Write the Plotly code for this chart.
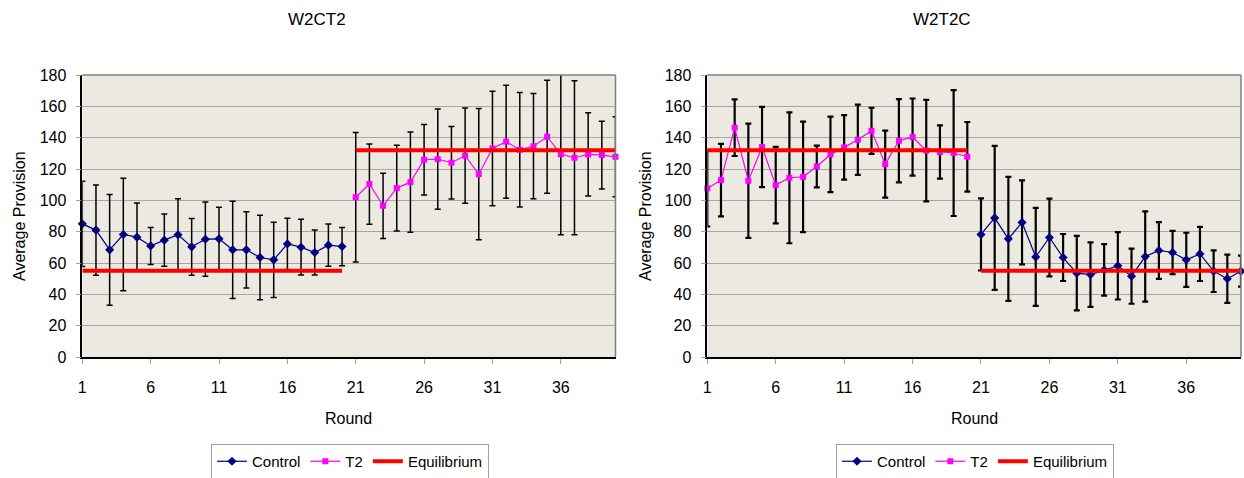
import plotly.graph_objects as go

rounds = list(range(1, 41))
rounds_a = rounds[:20]
rounds_b = rounds[20:]

# W2CT2 panel
left_control = [85.0, 81.0, 68.4, 78.2, 76.5, 70.9, 74.6, 78.0, 70.3, 75.2,
                75.4, 68.4, 68.4, 63.5, 62.0, 72.2, 70.1, 66.7, 71.4, 70.5]
left_control_err = [27.2, 28.8, 35.4, 35.9, 21.8, 11.8, 16.7, 23.0, 18.1, 23.7,
                    20.2, 31.0, 24.3, 26.9, 24.0, 16.3, 17.8, 14.3, 13.5, 12.2]
left_t2 = [102.0, 110.4, 96.5, 107.8, 111.6, 125.9, 126.3, 124.0, 128.5, 116.7,
           133.1, 137.4, 132.3, 134.6, 140.6, 129.5, 127.2, 129.3, 128.9, 127.8]
left_t2_err = [41.3, 25.6, 20.8, 27.4, 32.0, 22.5, 32.0, 23.1, 30.4, 41.9,
               36.5, 36.0, 36.6, 33.6, 36.0, 51.5, 49.2, 26.6, 21.6, 25.5]
left_eq = [55, 132]

# W2T2C panel
right_t2 = [107.6, 112.9, 146.4, 112.5, 134.0, 109.7, 114.4, 115.0, 121.6, 129.3,
            133.8, 138.7, 144.4, 123.1, 138.0, 140.4, 131.7, 130.8, 130.2, 127.8]
right_t2_err = [24.3, 23.1, 18.1, 36.5, 25.6, 24.4, 41.8, 35.3, 13.3, 24.1,
                20.6, 22.4, 14.7, 21.4, 26.6, 24.6, 32.4, 17.0, 40.2, 22.2]
right_control = [78.2, 88.8, 75.4, 85.9, 63.9, 76.3, 63.5, 53.5, 52.6, 55.6,
                 58.2, 51.6, 64.1, 68.0, 66.7, 62.0, 65.8, 54.8, 49.9, 54.8]
right_control_err = [23.0, 46.0, 39.6, 26.8, 31.3, 24.8, 15.0, 23.8, 20.6, 16.4,
                     21.5, 17.6, 28.8, 18.1, 13.8, 17.3, 17.3, 13.3, 15.4, 9.9]
right_eq = [132, 55]

titles = ["W2CT2", "W2T2C"]
y_ticks = list(range(0, 181, 20))
x_ticks = [1, 6, 11, 16, 21, 26, 31, 36]

FONT = "Liberation Sans, Arial, sans-serif"
NAVY = "#000080"
MAGENTA = "#FF00FF"
RED = "#FF0000"
BG = "#ECEAE0"
GRID = "#A6A6A6"

W, H = 1244, 478
fig = go.Figure()


def add_panel(xa, ya, legend, ctrl_x, ctrl_y, ctrl_e, t2_x, t2_y, t2_e, eq, err_w):
    fig.add_trace(go.Scatter(
        x=ctrl_x, y=ctrl_y, name="Control", mode="lines+markers",
        line=dict(color=NAVY, width=1.2),
        marker=dict(symbol="diamond", size=7, color=NAVY),
        error_y=dict(type="data", array=ctrl_e, visible=True, color="black",
                     thickness=err_w, width=3),
        xaxis=xa, yaxis=ya, legend=legend, cliponaxis=False))
    fig.add_trace(go.Scatter(
        x=t2_x, y=t2_y, name="T2", mode="lines+markers",
        line=dict(color=MAGENTA, width=1.2),
        marker=dict(symbol="square", size=6, color=MAGENTA),
        error_y=dict(type="data", array=t2_e, visible=True, color="black",
                     thickness=err_w, width=3),
        xaxis=xa, yaxis=ya, legend=legend, cliponaxis=False))
    eq_x = rounds_a + [None] + rounds_b
    eq_y = [eq[0]] * len(rounds_a) + [None] + [eq[1]] * len(rounds_b)
    fig.add_trace(go.Scatter(
        x=eq_x, y=eq_y, name="Equilibrium", mode="lines",
        line=dict(color=RED, width=4), connectgaps=False,
        xaxis=xa, yaxis=ya, legend=legend, cliponaxis=False))


# Left panel: control first half, T2 second half
add_panel("x", "y", "legend", rounds_a, left_control, left_control_err,
          rounds_b, left_t2, left_t2_err, left_eq, 1.5)
# Right panel: T2 first half, control second half
add_panel("x2", "y2", "legend2", rounds_b, right_control, right_control_err,
          rounds_a, right_t2, right_t2_err, right_eq, 2.2)

px_l = [(82.3, 615.5), (707.3, 1241.0)]
y_top, y_bot = 75.0, 357.0
ydom = [1 - y_bot / H, 1 - y_top / H]

axis_common_x = dict(range=[1, 40], tickvals=x_ticks, ticktext=[str(v) for v in x_ticks],
                     showgrid=False, zeroline=False, showline=True, linecolor="black",
                     linewidth=1.5, ticks="outside", ticklen=5, tickcolor="#A0A0A0",
                     tickfont=dict(family=FONT, size=16, color="black"),
                     ticklabelstandoff=10, automargin=False)
axis_common_y = dict(range=[0, 180], tickvals=y_ticks, showgrid=True, gridcolor=GRID,
                     gridwidth=1, zeroline=False, showline=True, linecolor="black",
                     linewidth=1.5, ticks="outside", ticklen=5, tickcolor="#A0A0A0",
                     tickfont=dict(family=FONT, size=16, color="black"),
                     ticklabelstandoff=6, automargin=False)

legend_common = dict(orientation="h", xanchor="center", y=1 - 444 / H, yanchor="top",
                     bordercolor="#A0A0A0", borderwidth=1, bgcolor="white",
                     font=dict(family=FONT, size=15), itemwidth=30, tracegroupgap=0)

fig.update_layout(
    width=W, height=H,
    margin=dict(l=0, r=0, t=0, b=0, autoexpand=False),
    paper_bgcolor="white", plot_bgcolor=BG,
    font=dict(family=FONT, size=16, color="black"),
    xaxis=dict(domain=[px_l[0][0] / W, px_l[0][1] / W], anchor="y", **axis_common_x),
    yaxis=dict(domain=ydom, anchor="x", **axis_common_y),
    xaxis2=dict(domain=[px_l[1][0] / W, px_l[1][1] / W], anchor="y2", **axis_common_x),
    yaxis2=dict(domain=ydom, anchor="x2", **axis_common_y),
    legend=dict(x=350 / W, **legend_common),
    legend2=dict(x=975 / W, **legend_common),
    showlegend=True,
)

annotations = []
for i, (l, r) in enumerate(px_l):
    cx = (l + r) / 2
    annotations.append(dict(text=titles[i], x=(317 + 625 * i) / W, y=1 - 19.5 / H,
                            xref="paper", yref="paper", showarrow=False,
                            xanchor="center", yanchor="middle",
                            font=dict(family=FONT, size=17)))
    annotations.append(dict(text="Round", x=cx / W, y=1 - 418 / H,
                            xref="paper", yref="paper", showarrow=False,
                            xanchor="center", yanchor="middle",
                            font=dict(family=FONT, size=16)))
    annotations.append(dict(text="Average Provision", x=(19 + 626 * i) / W,
                            y=1 - (y_top + y_bot) / 2 / H, textangle=-90,
                            xref="paper", yref="paper", showarrow=False,
                            xanchor="center", yanchor="middle",
                            font=dict(family=FONT, size=16)))
fig.update_layout(annotations=annotations)

shapes = []
for l, r in px_l:
    shapes.append(dict(type="line", xref="paper", yref="paper",
                       x0=r / W, x1=r / W, y0=ydom[0], y1=ydom[1],
                       line=dict(color="#808080", width=1.5)))
    shapes.append(dict(type="line", xref="paper", yref="paper",
                       x0=l / W, x1=r / W, y0=ydom[1], y1=ydom[1],
                       line=dict(color="#808080", width=1.5)))
fig.update_layout(shapes=shapes)

reset_js = (
    "var s=document.createElement('style');"
    "s.textContent='html,body{margin:0!important;padding:0!important;overflow:hidden!important;"
    "width:1244px;height:478px;} body>div{margin:0;padding:0;line-height:0;}';"
    "document.head.appendChild(s);"
)
fig.write_html("out.html", post_script=reset_js, config={"displayModeBar": False})
